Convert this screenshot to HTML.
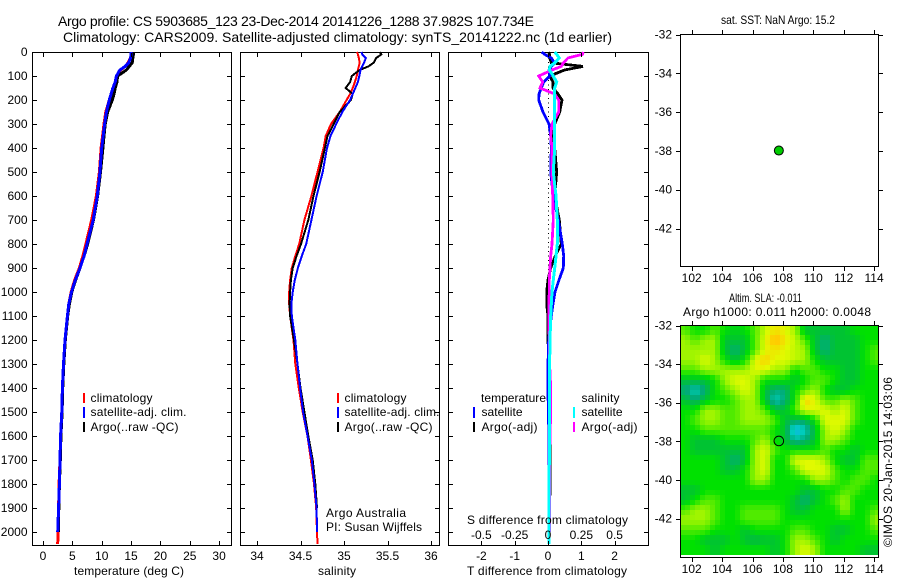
<!DOCTYPE html>
<html lang="en">
<head>
<meta charset="utf-8">
<title>Argo profile CS 5903685_123</title>
<style>
html,body{margin:0;padding:0;background:#fff;}
svg{display:block;}
text{font-family:"Liberation Sans",sans-serif;font-size:12px;fill:#000;}
</style>
</head>
<body>
<svg id="chart" xmlns="http://www.w3.org/2000/svg" width="900" height="580" viewBox="0 0 900 580">
  <rect x="0" y="0" width="900" height="580" fill="#fff"/>
  <text x="58" y="26" textLength="476" style="font-size:14px">Argo profile: CS 5903685_123 23-Dec-2014 20141226_1288 37.982S 107.734E</text>
  <text x="63" y="42" textLength="549" style="font-size:14px">Climatology: CARS2009. Satellite-adjusted climatology: synTS_20141222.nc (1d earlier)</text>

  <rect x="32.5" y="52.5" width="199" height="493" fill="none" stroke="#000"/>
  <rect x="240.5" y="52.5" width="199" height="493" fill="none" stroke="#000"/>
  <rect x="448.5" y="52.5" width="200" height="493" fill="none" stroke="#000"/>
  <g id="lines"></g>
  <g id="ticks"></g>

  <text x="74" y="575" textLength="110">temperature (deg C)</text>
  <text x="318" y="575" textLength="38">salinity</text>
  <text x="467" y="575" textLength="160">T difference from climatology</text>
  <text x="467" y="524" textLength="161">S difference from climatology</text>

  <g>
    <rect x="83" y="393" width="2" height="10" fill="#f00"/>
    <rect x="83" y="407" width="2" height="11" fill="#00f"/>
    <rect x="83" y="422" width="2" height="10" fill="#000"/>
    <text x="90.5" y="402" textLength="62">climatology</text>
    <text x="90.5" y="416" textLength="96">satellite-adj. clim.</text>
    <text x="90.5" y="431" textLength="88">Argo(..raw -QC)</text>
  </g>
  <g>
    <rect x="337" y="393" width="2" height="10" fill="#f00"/>
    <rect x="337" y="407" width="2" height="11" fill="#00f"/>
    <rect x="337" y="422" width="2" height="10" fill="#000"/>
    <text x="344.5" y="402" textLength="62">climatology</text>
    <text x="344.5" y="416" textLength="95">satellite-adj. clim.</text>
    <text x="344.5" y="431" textLength="88">Argo(..raw -QC)</text>
  </g>
  <text x="326" y="517" textLength="80">Argo Australia</text>
  <text x="326" y="531" textLength="96">PI: Susan Wijffels</text>
  <g>
    <text x="481" y="402" textLength="65">temperature</text>
    <text x="581.5" y="402" textLength="38">salinity</text>
    <rect x="473" y="407" width="2" height="11" fill="#00f"/>
    <rect x="473" y="422" width="2" height="10" fill="#000"/>
    <rect x="573" y="407" width="2" height="11" fill="#0ff"/>
    <rect x="573" y="422" width="2" height="10" fill="#f0f"/>
    <text x="481.5" y="416" textLength="41">satellite</text>
    <text x="481.5" y="431" textLength="56">Argo(-adj)</text>
    <text x="581.5" y="416" textLength="41">satellite</text>
    <text x="581.5" y="431" textLength="56">Argo(-adj)</text>
  </g>

  <text x="721" y="24" textLength="114" lengthAdjust="spacingAndGlyphs">sat. SST: NaN Argo: 15.2</text>
  <rect x="680.5" y="34.5" width="198" height="232" fill="none" stroke="#000"/>
  <text x="729" y="302" textLength="73" lengthAdjust="spacingAndGlyphs">Altim. SLA: -0.011</text>
  <text x="683" y="316" textLength="188">Argo h1000: 0.011 h2000: 0.0048</text>
  <g id="heat"></g>
  <rect x="680.5" y="325.5" width="198" height="232" fill="none" stroke="#000"/>
  <g id="markers"></g>
  <text transform="translate(892,547) rotate(-90)" textLength="170">©IMOS 20-Jan-2015 14:03:06</text>
</svg>
<script>
var depths = [0,10,25,45,60,75,100,125,150,175,200,250,300,350,400,500,600,700,800,850,900,950,1000,1050,1100,1200,1300,1400,1500,1600,1700,1800,1900,2000,2050];
var tempClimatology = [15.0,15.0,14.9,14.5,14.0,13.2,12.5,12.3,12.0,11.6,11.3,10.7,10.4,10.15,9.9,9.6,9.1,8.3,7.3,6.8,6.2,5.4,4.8,4.4,4.15,3.75,3.5,3.3,3.2,3.0,2.9,2.75,2.65,2.55,2.5];
var tempSatellite = [15.0,15.0,14.9,14.6,14.0,13.1,12.5,12.3,11.9,11.6,11.3,10.8,10.5,10.25,10.0,9.7,9.25,8.55,7.5,7.0,6.3,5.5,4.85,4.4,4.15,3.75,3.5,3.3,3.2,3.0,2.9,2.8,2.65,2.5,null];
var tempArgo = [15.4,15.4,15.3,15.2,14.7,14.2,12.7,12.6,12.3,12.1,11.8,11.0,10.6,10.4,10.2,9.8,9.3,8.6,7.6,7.0,6.3,5.55,4.9,4.5,4.2,3.8,3.55,3.35,3.25,3.05,2.95,2.8,2.7,2.6,null];
var salClimatology = [35.15,35.16,35.17,35.18,35.17,35.16,35.146,35.125,35.10,35.07,35.03,34.95,34.85,34.79,34.765,34.695,34.625,34.545,34.485,34.44,34.40,34.38,34.37,34.37,34.38,34.42,34.44,34.48,34.525,34.58,34.62,34.655,34.68,34.69,34.695];
var salSatellite = [35.2,35.21,35.25,35.23,35.21,35.19,35.176,35.16,35.13,35.10,35.07,34.98,34.91,34.845,34.805,34.755,34.685,34.625,34.565,34.515,34.47,34.435,34.41,34.395,34.40,34.44,34.465,34.495,34.53,34.58,34.63,34.66,34.685,34.69,null];
var salArgo = [35.41,35.43,35.37,35.34,35.28,35.18,35.09,35.07,35.02,35.1,35.08,34.95,34.88,34.81,34.78,34.72,34.65,34.59,34.506,34.455,34.41,34.39,34.38,34.375,34.38,34.425,34.465,34.50,34.545,34.59,34.64,34.67,34.69,null,null];
var diffTempSatellite = [-0.19,-0.1,0.1,0.2,0.1,0.03,0.05,-0.13,-0.2,-0.27,-0.28,-0.15,0.03,0.08,0.1,0.08,0.16,0.31,0.43,0.47,0.46,0.33,0.21,0.15,0.1,0.02,0.0,0.0,0.01,0.03,0.03,0.03,0.03,0.03,null];
var diffTempArgo = [0.02,0.05,0.05,0.1,1.05,0.5,0.05,0.15,0.15,0.3,0.42,0.35,0.2,0.15,0.2,0.26,0.2,0.34,0.4,0.22,0.08,0.0,-0.04,-0.04,0.0,0.0,0.03,0.05,0.06,0.07,0.07,0.06,0.05,0.05,null];
var diffSalSatellite = [0.05,0.065,0.085,0.05,0.015,0.01,0.04,0.065,0.05,0.05,0.05,0.05,0.05,0.05,0.05,0.04,0.06,0.07,0.07,0.06,0.05,0.04,0.03,0.025,0.02,0.015,0.012,0.01,0.01,0.01,0.01,0.008,0.008,0.008,0.008];
var diffSalArgo = [0.265,0.258,0.15,0.115,0.1,0.03,-0.07,-0.04,-0.06,0.05,0.08,0.08,0.03,0.02,0.03,0.03,0.035,0.04,0.03,0.02,0.015,0.01,0.01,0.005,0.005,0.01,0.012,0.02,0.02,0.015,0.012,0.012,0.012,0.012,null];
var depthTicks = [0,100,200,300,400,500,600,700,800,900,1000,1100,1200,1300,1400,1500,1600,1700,1800,1900,2000];
var tempTicks = [0,5,10,15,20,25,30];
var salTicks = [34,34.5,35,35.5,36];
var diffTempTicks = [-2,-1,0,1,2];
var diffSalTickValues = [-0.5,-0.25,0,0.25,0.5];
var diffSalTickLabels = ['-0.5','-0.25','0','0.25','0.5'];
var lonTicks = [102,104,106,108,110,112,114];
var latTicks = [-32,-34,-36,-38,-40,-42];
var argoLon = [107.734];
var argoLat = [-37.982];
var slaGrid = [
 [5,4,4,5,4,3.5,4,5,6.5,7.5,7,6,3,3,3,3,3,4,4,4],
 [6,5,6,6,3,3,3,5,7,8.5,7.5,6.5,5,3,2,3,3,3,4,4],
 [6,6,6,6,3,2,3,5,7,7.5,7,6.5,6,3,2,3,3,3,4,5],
 [6,6,7,6,4,3,4,7,8,7,7,6.5,6,4,3,3,3,3,4,5],
 [5,5,6,6,6,6,6,7,7,6,6,4,5,5,4,4,3,3,4,4],
 [3,3,3,4,6,7,7,6,4,4,4,3,4,5,5,4,3,3,4,4],
 [2,1,2,4,5,6,7,6,3,2,2,4,5,6,4,3,3,4,4,4],
 [3,2,3,4,4,5,6,6,3,1,2,4,8,7,5,5,6,5,4,4],
 [4,4,6,6,5,5,6,6,5,3,3,5,7,7,7,6,7,5,4,4],
 [4,5,6,6,5,5,6,6,6,5,3,2.5,2.5,4,7,7,7,5,4,4],
 [4,4,5,5,5,5,5,5,5,4,3,0,1,3,6,7,6,4,4,4],
 [4,3,3,3,4,4,4,5,6,4,3,1.5,2,3,6,6,5,4,4,4],
 [4,3,3,3,3,3,3,6,7,5,4,4,4,4,5,4,4,3,4,4],
 [4,4,4,4,3,2,3,6,7,4,4,7,7,7,6,4,3,3,5,5],
 [4,4,4,4,3,3,4,6,7,4,4,5,7,7,7,5,4,4,5,5],
 [4,4,4,4,4,4,4,6,6,4,4,4,4,6,6,5,4,5,5,4],
 [3,3,4,4,4,4,4,4,4,4,4,4,3,3,4,4,5,5,4,4],
 [3,4,5,5,4,4,4,4,4,4,4,3,2,3,4,5,6,4,4,4],
 [5,6,6,5,4,4,5,5,5,5,4,3,3,4,4,4,6,4,4,5],
 [6,6,6,5,4,4,5,5,5,5,4,4,4,4,4,4,4,4,4,6],
 [5,5,5,4,4,4,3,4,4,4,4,5,5,4,4,3,3,4,4,5],
 [4,4,3,3,3,4,3,2.5,3,3,4,6,6,5,4,3,4,4,4,4],
 [4,4,4,3,4,4,4,4,4,3,4,6,7,6,4,4,4,4,3,3]
];
var colorStops = [[20,175,240],[0,205,190],[0,172,120],[0,195,50],[0,225,0],[80,235,0],[160,245,0],[225,250,0],[255,205,0],[255,165,0]];

var NS = 'http://www.w3.org/2000/svg';
function depthY(d){ return 52 + 0.24 * d; }
function tempX(v){ return 43 + 5.87 * v; }
function salX(v){ return 257 + 87 * (v - 34); }
function diffTX(v){ return 548 + 33.3 * v; }
function diffSX(v){ return 548 + 133.3 * v; }
function lonX(l){ return 691.7 + 15.2 * (l - 102); }
function lat1Y(l){ return 34.5 + 19.4 * (-32 - l); }
function lat2Y(l){ return 325.5 + 19.3 * (-32 - l); }

function drawLine(parent, name, x1, y1, x2, y2){
  var el = document.createElementNS(NS, 'line');
  
  
  el.setAttribute('x1', x1); el.setAttribute('y1', y1);
  el.setAttribute('x2', x2); el.setAttribute('y2', y2);
  el.setAttribute('stroke', '#000');
  el.setAttribute('shape-rendering', 'crispEdges');
  parent.appendChild(el);
  return el;
}
function drawLabel(parent, name, x, y, anchor, str){
  var el = document.createElementNS(NS, 'text');
  
  
  el.setAttribute('x', x); el.setAttribute('y', y);
  el.setAttribute('text-anchor', anchor);
  el.textContent = str;
  parent.appendChild(el);
}
function drawSeries(parent, name, values, xf, color, width){
  var pts = [];
  for (var i = 0; i < values.length; i++) {
    if (values[i] === null) continue;
    pts.push(xf(values[i]).toFixed(1) + ',' + depthY(depths[i]).toFixed(1));
  }
  var el = document.createElementNS(NS, 'polyline');
  
  
  el.setAttribute('points', pts.join(' '));
  el.setAttribute('fill', 'none');
  el.setAttribute('stroke', color);
  el.setAttribute('stroke-width', width);
  el.setAttribute('shape-rendering', 'crispEdges');
  parent.appendChild(el);
}

var lines = document.getElementById('lines');
drawSeries(lines, 'temperature-climatology-line', tempClimatology, tempX, '#f00', 3);
drawSeries(lines, 'temperature-argo-line', tempArgo, tempX, '#000', 3);
drawSeries(lines, 'temperature-satellite-line', tempSatellite, tempX, '#00f', 3);
drawSeries(lines, 'salinity-climatology-line', salClimatology, salX, '#f00', 2);
drawSeries(lines, 'salinity-argo-line', salArgo, salX, '#000', 2);
drawSeries(lines, 'salinity-satellite-line', salSatellite, salX, '#00f', 2);

var zeroLine = drawLine(lines, 'zero-difference-line', 548.5, 53, 548.5, 545);
zeroLine.setAttribute('stroke-dasharray', '1 3.5');

drawSeries(lines, 'difference-t-argo-line', diffTempArgo, diffTX, '#000', 2.8);
drawSeries(lines, 'difference-t-satellite-line', diffTempSatellite, diffTX, '#00f', 2.8);
drawSeries(lines, 'difference-s-argo-line', diffSalArgo, diffSX, '#f0f', 2.8);
drawSeries(lines, 'difference-s-satellite-line', diffSalSatellite, diffSX, '#0ff', 3);

var ticks = document.getElementById('ticks');
var panelEdges = [[32, 231], [240, 439], [448, 648]];
panelEdges.forEach(function(edge){
  depthTicks.forEach(function(d){
    var y = Math.round(depthY(d)) + 0.5;
    drawLine(ticks, 'depth-tick', edge[0], y, edge[0] + 5, y);
    drawLine(ticks, 'depth-tick', edge[1] - 4, y, edge[1], y);
  });
});
depthTicks.forEach(function(d){
  drawLabel(ticks, 'depth-tick-label', 27.5, depthY(d) + 4, 'end', String(d));
});
function panelXTicks(values, labels, xf, labelY, name){
  values.forEach(function(v, i){
    var x = Math.round(xf(v)) + 0.5;
    drawLine(ticks, name + '-tick', x, 541, x, 545);
    drawLine(ticks, name + '-tick', x, 53, x, 57);
    drawLabel(ticks, name + '-tick-label', xf(v), labelY, 'middle', labels[i]);
  });
}
panelXTicks(tempTicks, tempTicks.map(String), tempX, 560, 'temperature');
panelXTicks(salTicks, salTicks.map(String), salX, 560, 'salinity');
panelXTicks(diffTempTicks, diffTempTicks.map(String), diffTX, 560, 'difference-t');
diffSalTickValues.forEach(function(v, i){
  drawLabel(ticks, 'difference-s-tick-label', diffSX(v), 539, 'middle', diffSalTickLabels[i]);
});

function mapAxes(latY, top, bottom, labelY, name){
  lonTicks.forEach(function(l){
    var x = Math.round(lonX(l)) + 0.5;
    drawLine(ticks, name + '-lon-tick', x, top - 4, x, top);
    drawLine(ticks, name + '-lon-tick', x, bottom, x, bottom + 4);
    drawLabel(ticks, name + '-lon-label', lonX(l), labelY, 'middle', String(l));
  });
  latTicks.forEach(function(l){
    var y = Math.round(latY(l)) + 0.5;
    drawLine(ticks, name + '-lat-tick', 676, y, 680, y);
    drawLine(ticks, name + '-lat-tick', 879, y, 883, y);
    drawLabel(ticks, name + '-lat-label', 672, latY(l) + 4, 'end', String(l));
  });
}
mapAxes(lat1Y, 34, 267, 282, 'sst-map');
mapAxes(lat2Y, 325, 558, 573, 'sla-map');

function slaColor(v){
  var c = Math.max(0, Math.min(colorStops.length - 1.001, v));
  var i = Math.floor(c), f = c - i;
  var a = colorStops[i], b = colorStops[i + 1];
  return 'rgb(' + Math.round(a[0] + (b[0] - a[0]) * f) + ',' + Math.round(a[1] + (b[1] - a[1]) * f) + ',' + Math.round(a[2] + (b[2] - a[2]) * f) + ')';
}
function slaAt(px, py){
  var gx = Math.max(0, Math.min(slaGrid[0].length - 1.001, (px - 685) / 10));
  var gy = Math.max(0, Math.min(slaGrid.length - 1.001, (py - 330) / 10));
  var i = Math.floor(gx), j = Math.floor(gy), fx = gx - i, fy = gy - j;
  return (slaGrid[j][i] * (1 - fx) + slaGrid[j][i + 1] * fx) * (1 - fy) +
         (slaGrid[j + 1][i] * (1 - fx) + slaGrid[j + 1][i + 1] * fx) * fy;
}
var heat = document.getElementById('heat');


for (var py = 325; py < 555; py += 5) {
  for (var px = 680; px < 878; px += 5) {
    var cell = document.createElementNS(NS, 'rect');
    
    
    cell.setAttribute('x', px);
    cell.setAttribute('y', py);
    cell.setAttribute('width', Math.min(5, 878 - px));
    cell.setAttribute('height', 5);
    cell.setAttribute('fill', slaColor(slaAt(px + 2.5, py + 2.5)));
    cell.setAttribute('shape-rendering', 'crispEdges');
    heat.appendChild(cell);
  }
}

var markers = document.getElementById('markers');
var sstMarker = document.createElementNS(NS, 'circle');


sstMarker.setAttribute('cx', lonX(argoLon[0]));
sstMarker.setAttribute('cy', lat1Y(argoLat[0]));
sstMarker.setAttribute('r', 4.5);
sstMarker.setAttribute('fill', '#0c0');
sstMarker.setAttribute('stroke', '#000');
markers.appendChild(sstMarker);
var slaMarker = document.createElementNS(NS, 'circle');


slaMarker.setAttribute('cx', lonX(argoLon[0]));
slaMarker.setAttribute('cy', lat2Y(argoLat[0]));
slaMarker.setAttribute('r', 4.8);
slaMarker.setAttribute('fill', 'none');
slaMarker.setAttribute('stroke', '#000');
markers.appendChild(slaMarker);
</script>
</body>
</html>
